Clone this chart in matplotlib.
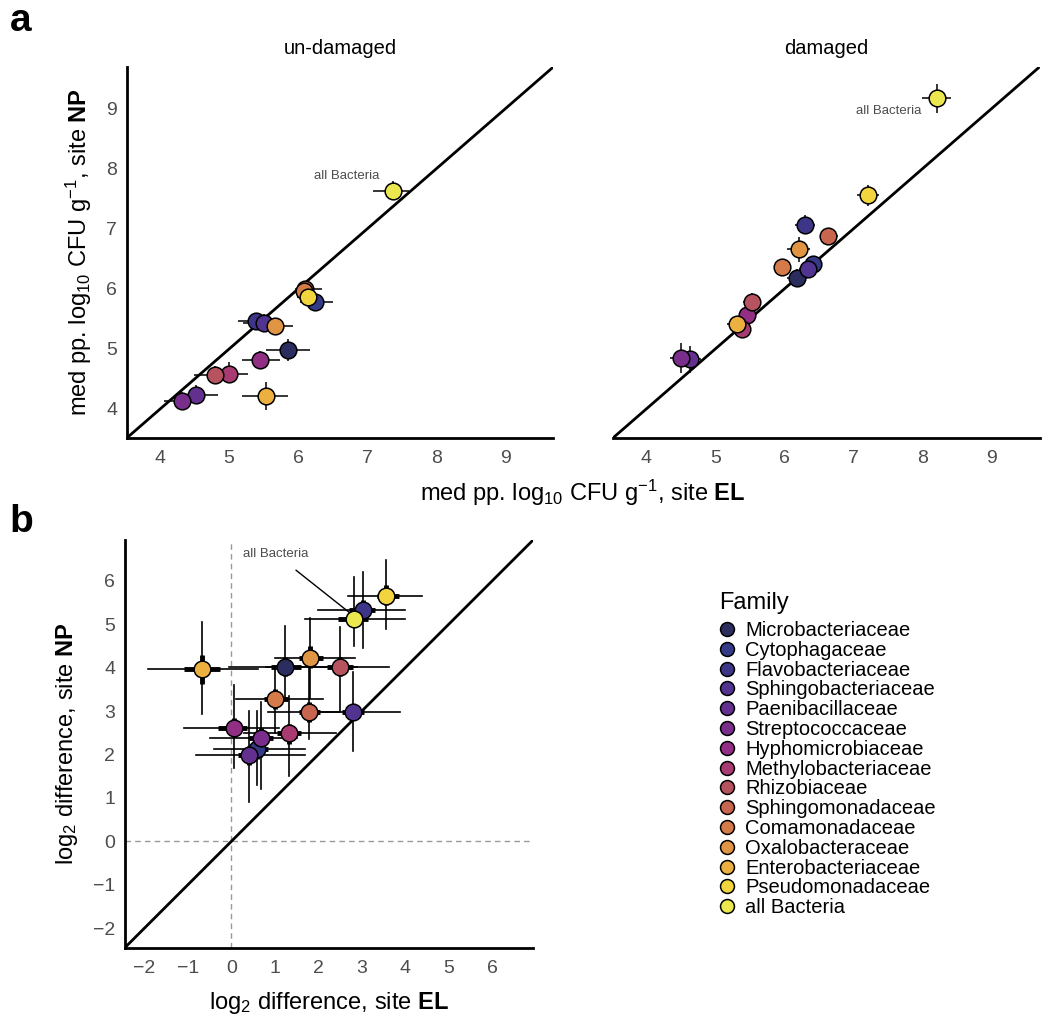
import matplotlib
matplotlib.use('Agg')
import matplotlib.pyplot as plt
from matplotlib.lines import Line2D
import numpy as np

plt.rcParams['font.family'] = ['Liberation Sans', 'DejaVu Sans']
plt.rcParams['mathtext.fontset'] = 'custom'
plt.rcParams['mathtext.rm'] = 'Liberation Sans'
plt.rcParams['mathtext.it'] = 'Liberation Sans:italic'
plt.rcParams['mathtext.bf'] = 'Liberation Sans:bold'

families = ['Microbacteriaceae', 'Cytophagaceae', 'Flavobacteriaceae', 'Sphingobacteriaceae',
            'Paenibacillaceae', 'Streptococcaceae', 'Hyphomicrobiaceae', 'Methylobacteriaceae',
            'Rhizobiaceae', 'Sphingomonadaceae', 'Comamonadaceae', 'Oxalobacteraceae',
            'Enterobacteriaceae', 'Pseudomonadaceae', 'all Bacteria']
colors = ['#2b2d5f', '#343a86', '#3d3588', '#513490', '#63308f', '#7a2e8c', '#922e83', '#a83b72',
          '#b7535f', '#c8654f', '#d57a49', '#e09544', '#ebb03f', '#f2d43e', '#ebe84f']

# panel a, un-damaged (same family order as above)
und_x = [5.85, 6.25, 5.39, 5.50, 4.52, 4.32, 5.45, 5.00, 4.79, 6.10, 6.08, 5.67, 5.54, 6.15, 7.37]
und_y = [4.98, 5.78, 5.46, 5.44, 4.23, 4.13, 4.81, 4.59, 4.57, 6.00, 5.97, 5.39, 4.21, 5.86, 7.63]
und_xlo = [5.54, 6.02, 5.13, 5.20, 4.25, 4.05, 5.19, 4.82, 4.49, 5.95, 5.98, 5.55, 5.18, 5.98, 7.08]
und_xhi = [6.17, 6.50, 5.55, 5.60, 4.84, 4.50, 5.74, 5.27, 4.95, 6.34, 6.20, 5.93, 5.86, 6.27, 7.61]
und_ylo = [4.80, 5.65, 5.35, 5.30, 4.08, 3.98, 4.66, 4.43, 4.42, 5.92, 5.90, 5.28, 3.99, 5.78, 7.48]
und_yhi = [5.16, 5.90, 5.55, 5.58, 4.40, 4.28, 4.96, 4.78, 4.72, 6.10, 6.05, 5.52, 4.45, 5.95, 7.80]

# panel a, damaged
dam_x = [6.19, 6.42, 6.30, 6.34, 4.63, 4.51, 5.46, 5.39, 5.53, 6.64, 5.97, 6.21, 5.32, 7.21, 8.21]
dam_y = [6.19, 6.42, 7.07, 6.33, 4.83, 4.85, 5.57, 5.34, 5.78, 6.88, 6.37, 6.66, 5.41, 7.56, 9.18]
dam_xlo = [6.04, 6.30, 6.15, 6.22, 4.52, 4.35, 5.35, 5.28, 5.40, 6.52, 5.85, 6.04, 5.17, 7.05, 7.99]
dam_xhi = [6.33, 6.55, 6.45, 6.46, 4.80, 4.66, 5.58, 5.52, 5.66, 6.78, 6.10, 6.38, 5.45, 7.37, 8.42]
dam_ylo = [6.03, 6.30, 6.92, 6.20, 4.60, 4.60, 5.45, 5.18, 5.63, 6.76, 6.25, 6.45, 5.30, 7.38, 8.94]
dam_yhi = [6.33, 6.55, 7.24, 6.45, 5.05, 5.10, 5.72, 5.48, 5.93, 7.00, 6.50, 6.86, 5.55, 7.74, 9.42]

# panel b, log2 differences
dif_x = [1.23, 0.58, 3.03, 2.79, 0.41, 0.68, 0.05, 1.32, 2.50, 1.79, 1.01, 1.82, -0.67, 3.56, 2.83]
dif_y = [4.02, 2.12, 5.34, 2.97, 1.98, 2.37, 2.61, 2.49, 4.02, 2.99, 3.27, 4.23, 3.96, 5.66, 5.13]
dif_xlo = [-0.05, -0.40, 2.00, 1.69, -0.81, -0.50, -1.10, 0.30, 0.80, 0.85, 0.10, 1.00, -1.92, 2.69, 1.69]
dif_xhi = [2.90, 1.70, 4.00, 3.87, 1.69, 1.50, 1.10, 2.40, 3.62, 2.50, 2.10, 2.85, 0.62, 4.39, 4.00]
dif_ylo = [3.31, 1.30, 4.46, 2.08, 0.90, 1.20, 1.70, 1.50, 3.00, 2.35, 2.50, 3.30, 2.93, 4.90, 4.50]
dif_yhi = [4.96, 3.00, 6.20, 3.89, 3.00, 3.20, 3.60, 3.35, 4.95, 4.20, 4.00, 5.15, 5.05, 6.49, 6.10]
dif_xlo2 = [0.90, 0.35, 2.70, 2.55, 0.15, 0.40, -0.30, 1.05, 2.20, 1.55, 0.75, 1.55, -1.08, 3.35, 2.45]
dif_xhi2 = [1.60, 0.85, 3.30, 3.05, 0.70, 0.95, 0.35, 1.60, 2.80, 2.05, 1.30, 2.10, -0.27, 3.85, 3.15]
dif_ylo2 = [3.80, 1.90, 5.10, 2.80, 1.75, 2.15, 2.40, 2.25, 3.80, 2.75, 3.05, 4.00, 3.63, 5.45, 4.95]
dif_yhi2 = [4.25, 2.35, 5.55, 3.15, 2.20, 2.60, 2.85, 2.70, 4.25, 3.20, 3.50, 4.50, 4.30, 5.90, 5.35]

lim_a = (3.52, 9.70)
lim_b = (-2.45, 6.95)
ticks_a = [4, 5, 6, 7, 8, 9]
ticks_b = [-2, -1, 0, 1, 2, 3, 4, 5, 6]

fig = plt.figure(figsize=(10.5, 10.3), dpi=100)
ax1 = fig.add_axes([0.121, 0.575, 0.406, 0.360])
ax2 = fig.add_axes([0.584, 0.575, 0.406, 0.360])
ax3 = fig.add_axes([0.119, 0.080, 0.389, 0.396])

tick_col = '#4d4d4d'


def style(ax, lim, ticks, left=True):
    ax.set_xlim(lim)
    ax.set_ylim(lim)
    ax.set_xticks(ticks)
    ax.set_yticks(ticks)
    for s in ['top', 'right']:
        ax.spines[s].set_visible(False)
    ax.spines['bottom'].set_linewidth(2.0)
    ax.spines['left'].set_linewidth(2.0)
    ax.tick_params(length=0, labelsize=14, colors=tick_col)
    ax.tick_params(axis='x', pad=9)
    ax.tick_params(axis='y', pad=7)
    if not left:
        ax.spines['left'].set_visible(False)
        ax.set_yticks([])
    ax.plot(lim, lim, color='black', lw=2.0, zorder=1, solid_capstyle='butt')


def panel_a(ax, x, y, xlo, xhi, ylo, yhi):
    x = np.array(x); y = np.array(y)
    xerr = [x - np.array(xlo), np.array(xhi) - x]
    yerr = [y - np.array(ylo), np.array(yhi) - y]
    for i in range(len(x)):
        ax.errorbar(x[i], y[i], xerr=[[xerr[0][i]], [xerr[1][i]]], yerr=[[yerr[0][i]], [yerr[1][i]]],
                    fmt='o', ms=12, mfc=colors[i], mec='black', mew=1.1,
                    ecolor='black', elinewidth=1.1, capsize=0, zorder=3 + i * 0.01)


style(ax1, lim_a, ticks_a)
style(ax2, lim_a, ticks_a, left=False)
panel_a(ax1, und_x, und_y, und_xlo, und_xhi, und_ylo, und_yhi)
panel_a(ax2, dam_x, dam_y, dam_xlo, dam_xhi, dam_ylo, dam_yhi)
ax1.text(6.70, 7.89, 'all Bacteria', fontsize=9.5, color='#4d4d4d', ha='center', va='center')
ax2.text(7.52, 8.97, 'all Bacteria', fontsize=9.5, color='#4d4d4d', ha='center', va='center')
ax1.set_title('un-damaged', fontsize=14.5, pad=9)
ax2.set_title('damaged', fontsize=14.5, pad=9)
ax1.set_ylabel(r'med pp. log$_{10}$ CFU g$^{-1}$, site $\mathbf{NP}$', fontsize=17, labelpad=9)
fig.text(0.555, 0.521, r'med pp. log$_{10}$ CFU g$^{-1}$, site $\mathbf{EL}$', fontsize=17,
         ha='center', va='center')

# panel b
style(ax3, lim_b, ticks_b)
ax3.axvline(0, color='#999999', lw=1.0, ls=(0, (4, 3)), zorder=0)
ax3.axhline(0, color='#999999', lw=1.0, ls=(0, (4, 3)), zorder=0)
for i in range(len(dif_x)):
    ax3.plot([dif_xlo[i], dif_xhi[i]], [dif_y[i], dif_y[i]], color='black', lw=1.2, zorder=2)
    ax3.plot([dif_x[i], dif_x[i]], [dif_ylo[i], dif_yhi[i]], color='black', lw=1.2, zorder=2)
    ax3.plot([dif_xlo2[i], dif_xhi2[i]], [dif_y[i], dif_y[i]], color='black', lw=3.5, zorder=2,
             solid_capstyle='butt')
    ax3.plot([dif_x[i], dif_x[i]], [dif_ylo2[i], dif_yhi2[i]], color='black', lw=3.5, zorder=2,
             solid_capstyle='butt')
    ax3.plot(dif_x[i], dif_y[i], 'o', ms=12, mfc=colors[i], mec='black', mew=1.1, zorder=3 + i * 0.01)
ax3.annotate('all Bacteria', xy=(dif_x[-1] - 0.1, dif_y[-1] + 0.13), xytext=(1.03, 6.61),
             fontsize=9.5, color='#4d4d4d', ha='center', va='center',
             arrowprops=dict(arrowstyle='-', color='black', lw=1.0, shrinkA=8, shrinkB=0))
ax3.set_xlabel(r'log$_2$ difference, site $\mathbf{EL}$', fontsize=17, labelpad=9)
ax3.set_ylabel(r'log$_2$ difference, site $\mathbf{NP}$', fontsize=17, labelpad=9)

# legend
handles = [Line2D([], [], marker='o', ls='none', ms=10, mfc=c, mec='black', mew=1.1) for c in colors]
leg = fig.legend(handles, families, loc='upper left', bbox_to_anchor=(0.675, 0.435), frameon=False,
                 title='Family', fontsize=14.5, title_fontsize=17, labelspacing=0.04,
                 handlelength=0.8, handletextpad=0.5, borderpad=0)
leg._legend_box.align = 'left'
leg._legend_box.sep = 5

fig.text(0.009, 0.980, 'a', fontsize=28, fontweight='bold', va='center')
fig.text(0.009, 0.493, 'b', fontsize=28, fontweight='bold', va='center')

fig.savefig('out.png', dpi=100)
